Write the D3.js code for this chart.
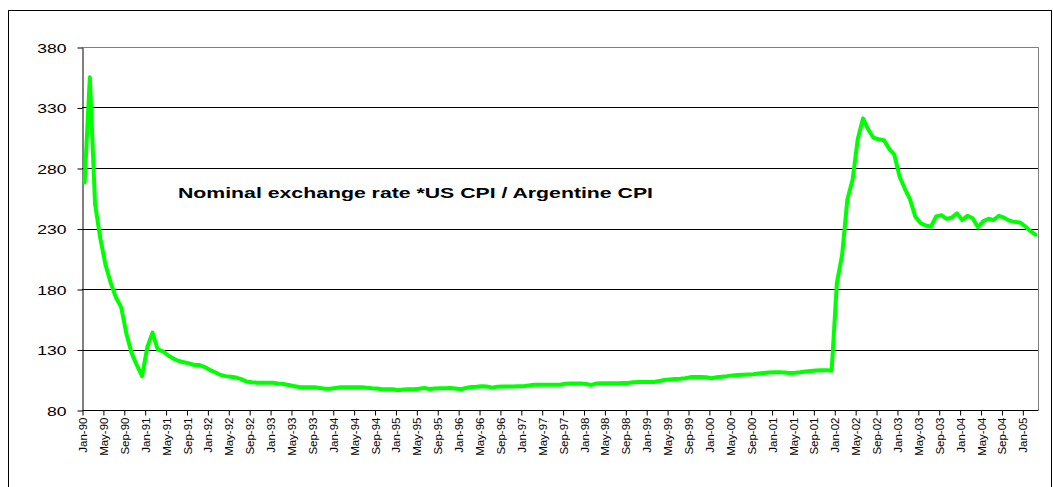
<!DOCTYPE html>
<html>
<head>
<meta charset="utf-8">
<script src="https://cdn.jsdelivr.net/npm/d3@7"></script>
<style>
  body { margin: 0; background: #fff; }
  svg { display: block; }
</style>
</head>
<body>
<div id="chart"></div>
<script>
// monthly series, first value is Jan-90, last is Mar-05
const title = "Nominal exchange rate *US CPI / Argentine CPI";
const yTicks = [80, 130, 180, 230, 280, 330, 380];
const xTickLabels = [
  "Jan-90", "May-90", "Sep-90", "Jan-91", "May-91", "Sep-91", "Jan-92", "May-92", "Sep-92",
  "Jan-93", "May-93", "Sep-93", "Jan-94", "May-94", "Sep-94", "Jan-95", "May-95", "Sep-95",
  "Jan-96", "May-96", "Sep-96", "Jan-97", "May-97", "Sep-97", "Jan-98", "May-98", "Sep-98",
  "Jan-99", "May-99", "Sep-99", "Jan-00", "May-00", "Sep-00", "Jan-01", "May-01", "Sep-01",
  "Jan-02", "May-02", "Sep-02", "Jan-03", "May-03", "Sep-03", "Jan-04", "May-04", "Sep-04",
  "Jan-05"
];
const rate = [
  268, 355, 250, 222, 200, 185, 173, 165, 143, 127, 117, 108,                       // 1990
  132, 144, 130, 128.5, 125, 122.5, 120.5, 119.5, 118.5, 117.2, 117.2, 115.5,       // 1991
  113, 111.2, 109, 108, 107.5, 106.8, 105.5, 103.5, 103, 102.6, 102.6, 102.6,       // 1992
  102.6, 102, 101.5, 100.7, 99.8, 99, 98.8, 98.8, 98.8, 98.2, 97.6, 97.6,           // 1993
  98.2, 98.8, 98.8, 98.8, 98.8, 98.8, 98.3, 97.9, 97.7, 97.2, 97.1, 97.1,           // 1994
  96.3, 97, 97.1, 97.2, 97.5, 98.2, 97.3, 97.8, 97.9, 98, 98.2, 97.8,               // 1995
  97.1, 98.2, 99, 99.3, 99.7, 99.5, 98.5, 99.3, 99.4, 99.5, 99.5, 99.6,             // 1996
  99.6, 100.3, 100.8, 100.8, 100.8, 100.9, 100.9, 100.9, 101.7, 101.8, 101.9, 102,  // 1997
  101.5, 100.7, 102, 102.1, 102.1, 102.2, 102.2, 102.3, 102.4, 103, 103.1, 103.1,   // 1998
  103.1, 103.1, 104, 104.8, 105.3, 105.6, 105.9, 106.3, 107.2, 107.3, 107.3, 107,   // 1999
  106.3, 107, 107.5, 108, 108.6, 108.9, 109.2, 109.4, 109.6, 110.1, 110.5, 110.9,   // 2000
  111.3, 111.3, 111, 110.6, 110.7, 111.2, 111.9, 112.3, 112.6, 112.8, 112.8, 112.6, // 2001
  185, 208, 254, 270, 304, 321, 312, 305, 303.8, 303, 296, 291,                     // 2002
  273, 263, 254, 240, 234.5, 232.5, 231.5, 240, 241, 238, 239, 242.5,               // 2003
  237, 240.5, 238.5, 231, 236, 238, 237, 240.5, 239, 236.5, 235.5, 235,             // 2004
  232, 228, 225                                                                     // 2005
];

const W = 1053, H = 487;
const plot = { left: 82, right: 1038, top: 47, bottom: 410 };

const svg = d3.select("#chart").append("svg")
  .attr("width", W)
  .attr("height", H);

// outer chart frame
svg.append("rect")
  .attr("x", 8.5).attr("y", 10.5)
  .attr("width", 1043).attr("height", 490)
  .attr("fill", "none")
  .attr("stroke", "#000");

// category positions: one slot per month, points in the middle of the slot
const x = d3.scaleLinear().domain([0, rate.length]).range([plot.left, plot.right]);
const y = d3.scaleLinear().domain([80, 380]).range([plot.bottom, plot.top]);

// gridlines
svg.append("g")
  .selectAll("line")
  .data(yTicks.slice(1, -1))
  .enter()
  .append("line")
  .attr("x1", plot.left).attr("x2", plot.right)
  .attr("y1", (d) => Math.round(y(d)) + 0.5)
  .attr("y2", (d) => Math.round(y(d)) + 0.5)
  .attr("stroke", "#000")
  .attr("stroke-width", 1);

// plot area border (top / right) in grey
svg.append("path")
  .attr("d", `M${plot.left},${Math.round(y(380)) + 0.5}H${Math.round(plot.right) + 0.5}V${plot.bottom}`)
  .attr("fill", "none")
  .attr("stroke", "#808080");

// y axis
const yAxis = svg.append("g")
  .attr("transform", `translate(${plot.left + 0.5},0.5)`)
  .call(d3.axisLeft(y).tickValues(yTicks).tickSize(5).tickSizeOuter(0).tickFormat(d3.format("d")));
yAxis.select(".domain").attr("stroke", "#000");
yAxis.selectAll("line").attr("stroke", "#000");
yAxis.selectAll("text")
  .attr("x", 0)
  .attr("dy", "0.36em")
  .attr("transform", "translate(-16,0) scale(1.35,1)")
  .style("font-family", "Arial, 'Liberation Sans', sans-serif")
  .style("font-size", "13px")
  .style("fill", "#000");

// x axis
const xTickIdx = xTickLabels.map((d, i) => i * 4);
const xAxis = svg.append("g")
  .attr("transform", `translate(0.5,${plot.bottom + 0.5})`)
  .call(d3.axisBottom(x).tickValues(xTickIdx).tickSize(5).tickSizeOuter(0)
    .tickFormat((d, i) => xTickLabels[i]));
xAxis.select(".domain").attr("stroke", "#000").attr("d", `M${plot.left},0H${plot.right}`);
xAxis.selectAll("line").attr("stroke", "#000");
xAxis.selectAll("text")
  .attr("x", 0).attr("y", 0)
  .attr("dy", "0.35em")
  .attr("text-anchor", "end")
  .attr("transform", "translate(0,7) rotate(-90)")
  .style("font-family", "Arial, 'Liberation Sans', sans-serif")
  .style("font-size", "11.5px")
  .style("fill", "#000");

// series
svg.append("path")
  .datum(rate)
  .attr("fill", "none")
  .attr("stroke", "#00ff00")
  .attr("stroke-width", 4)
  .attr("stroke-linejoin", "round")
  .attr("stroke-linecap", "round")
  .attr("d", d3.line()
    .x((d, i) => x(i + 0.5))
    .y((d) => y(d)));

// title inside the plot
svg.append("text")
  .attr("x", 178)
  .attr("y", 198)
  .attr("textLength", 475)
  .attr("lengthAdjust", "spacingAndGlyphs")
  .style("font-family", "Arial, 'Liberation Sans', sans-serif")
  .style("font-size", "14px")
  .style("font-weight", "bold")
  .style("fill", "#000")
  .text(title);
</script>
</body>
</html>
